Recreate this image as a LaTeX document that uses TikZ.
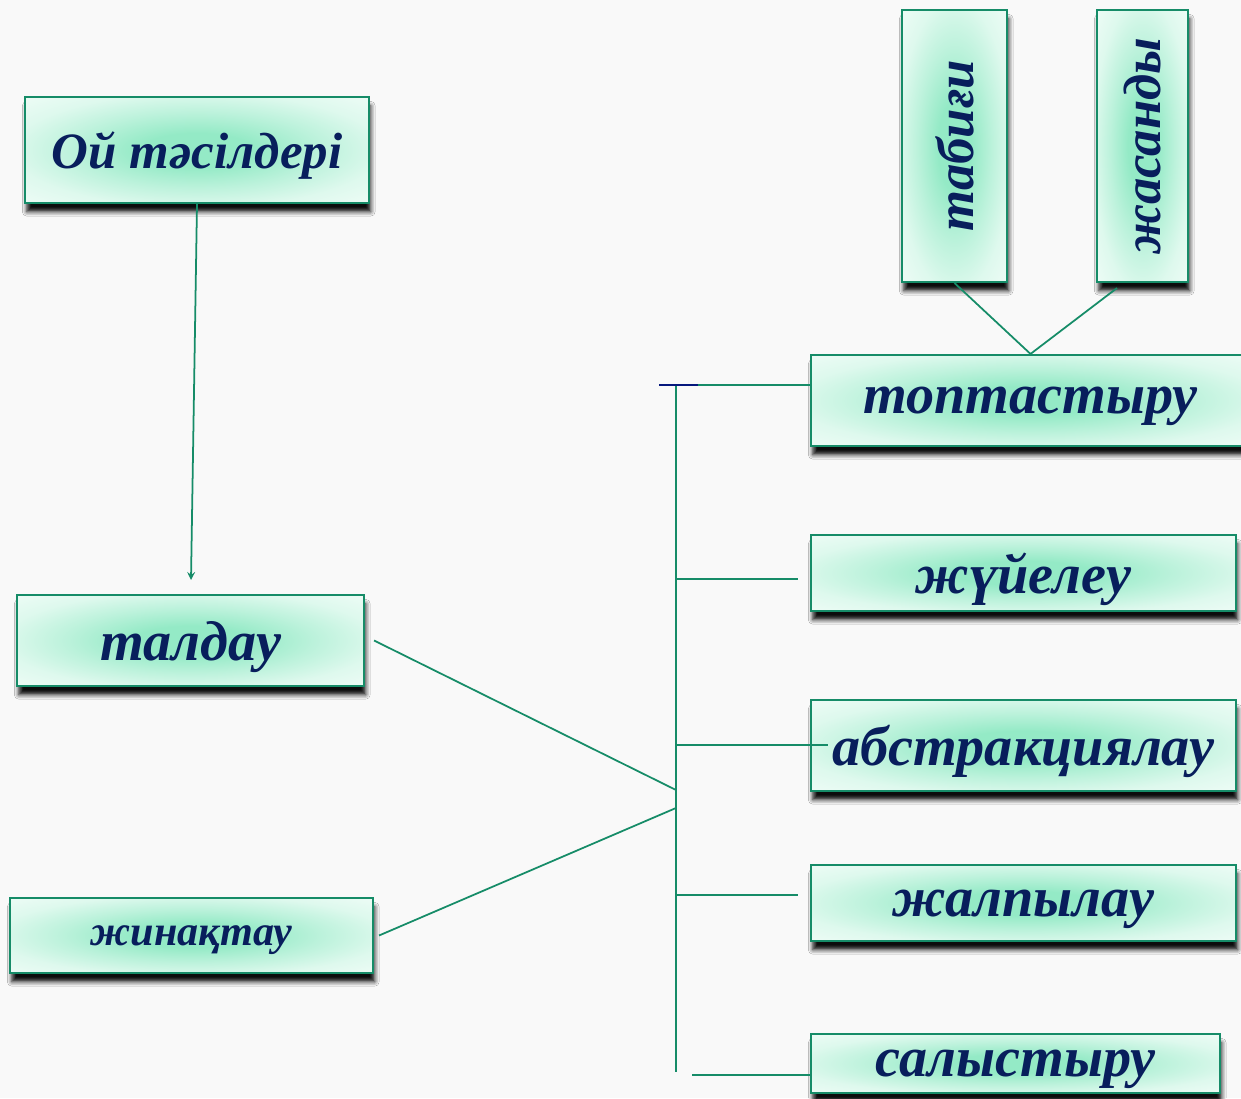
\documentclass[tikz,border=0pt]{standalone}
\usepackage{fontspec}
\setmainfont{Liberation Serif}
\usetikzlibrary{shadows.blur, arrows}

\definecolor{boxgreen}{RGB}{22,140,104}
\definecolor{boxinner}{RGB}{148,234,198}
\definecolor{boxouter}{RGB}{238,252,246}
\definecolor{textnavy}{RGB}{8,30,92}
\definecolor{bgpaper}{RGB}{249,249,249}

\pgfdeclareradialshading{boxglow}{\pgfpoint{0bp}{0bp}}{%
    color(0bp)=(boxinner); color(8bp)=(boxinner); color(18bp)=(boxinner!55!boxouter);
    color(27bp)=(boxinner!18!boxouter); color(36bp)=(boxouter); color(50bp)=(boxouter)}

\tikzset{
    methodbox/.style={draw=boxgreen, line width=1.2pt, shading=boxglow,
        blur shadow={shadow xshift=1pt, shadow yshift=-5pt, shadow blur radius=2.5pt, shadow opacity=95},
        text=textnavy, font=\fontsize{32}{38}\selectfont\bfseries\itshape,
        inner sep=0pt, text depth=0pt, text centered},
    link/.style={line width=1pt, color=boxgreen}
}

\begin{document}
\begin{tikzpicture}
    \useasboundingbox (0,0) rectangle (24.82,21.96);
    \fill [bgpaper] (0,0) rectangle (24.82,21.96);

    % Main boxes
    \node at (3.94,18.96) [methodbox, minimum width=6.88cm, minimum height=2.12cm, font=\fontsize{29}{34}\selectfont\bfseries\itshape] (oy) {Ой тәсілдері};
    \node at (3.81,9.15) [methodbox, minimum width=6.94cm, minimum height=1.82cm] (taldau) {талдау};
    \node at (3.83,3.25) [methodbox, minimum width=7.26cm, minimum height=1.5cm, font=\fontsize{24}{28}\selectfont\bfseries\itshape] (zhinaqtau) {жинақтау};

    % Right column
    \node at (20.61,13.95) [methodbox, minimum width=8.78cm, minimum height=1.82cm] (topt) {топтастыру};
    \node at (20.47,10.5) [methodbox, minimum width=8.5cm, minimum height=1.52cm] (zhuie) {жүйелеу};
    \node at (20.47,7.05) [methodbox, minimum width=8.5cm, minimum height=1.82cm] (abstr) {абстракциялау};
    \node at (20.47,3.9) [methodbox, minimum width=8.5cm, minimum height=1.52cm] (zhalpy) {жалпылау};
    \node at (20.31,0.69) [methodbox, minimum width=8.18cm, minimum height=1.18cm] (salys) {салыстыру};

    % Vertical boxes
    \node at (19.09,19.04) [methodbox, minimum width=5.44cm, minimum height=2.1cm, rotate=90, font=\fontsize{30}{36}\selectfont\bfseries\itshape] (tabigi) {табиғи};
    \node at (22.85,19.04) [methodbox, minimum width=5.44cm, minimum height=1.82cm, rotate=90, font=\fontsize{30}{36}\selectfont\bfseries\itshape] (zhasandy) {жасанды};

    % Arrow down
    \coordinate (taldautop) at (3.82,10.36);
    \draw [link, ->,>=stealth] (oy.south) -- (taldautop);

    % Kinds of grouping
    \draw [link] (tabigi.west) -- (topt.north);
    \draw [link] ([xshift=-0.51cm, yshift=-0.1cm]zhasandy.west) -- (topt.north);

    % Bus line
    \coordinate (bustop) at (13.52,14.26);
    \coordinate (busbot) at (13.52,0.52);
    \coordinate (busin1) at (13.52,6.16);
    \coordinate (busin2) at (13.52,5.8);
    \draw [link] (bustop) -- (busbot);
    \draw [link] (13.24,14.26) -- (topt.west |- bustop);
    \draw [line width=1pt, color=textnavy!80!blue] (13.18,14.26) -- (13.96,14.26);
    \draw [link] (13.52,10.38) -- ++(2.44,0);
    \draw [link] (13.52,7.06) -- ++(3.04,0);
    \draw [link] (13.52,4.06) -- ++(2.44,0);
    \draw [link] (13.84,0.46) -- (salys.west |- 13.84,0.46);

    % Inputs
    \draw [link] ([xshift=0.18cm]taldau.east) -- (busin1);
    \draw [link] ([xshift=0.1cm]zhinaqtau.east) -- (busin2);

\end{tikzpicture}
\end{document}
